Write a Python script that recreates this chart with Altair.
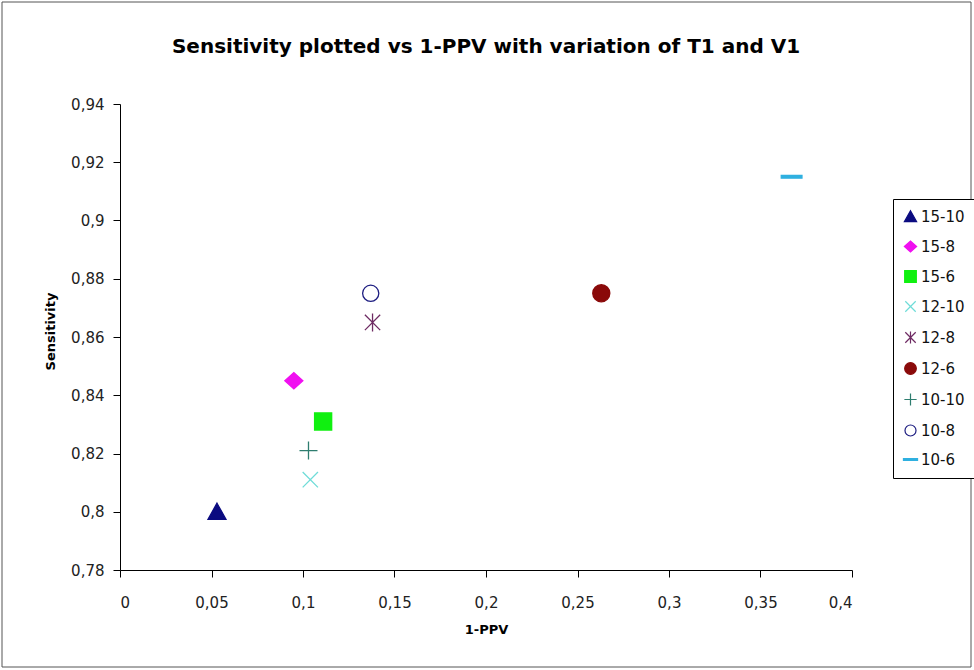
import altair as alt
import pandas as pd

# Sensitivity vs 1-PPV for each T1-V1 combination
series = ["15-10", "15-8", "15-6", "12-10", "12-8", "12-6", "10-10", "10-8", "10-6"]
one_minus_ppv = [0.053, 0.095, 0.111, 0.104, 0.138, 0.263, 0.103, 0.137, 0.367]
sensitivity = [0.800, 0.845, 0.831, 0.811, 0.865, 0.875, 0.821, 0.875, 0.915]

x_ticks = [0, 0.05, 0.1, 0.15, 0.2, 0.25, 0.3, 0.35, 0.4]
y_ticks = [0.78, 0.8, 0.82, 0.84, 0.86, 0.88, 0.9, 0.92, 0.94]

chart_title = "Sensitivity plotted vs 1-PPV with variation of T1 and V1"

# marker styling per series
shapes = [
    "M0,-0.95L1,0.85L-1,0.85Z",                      # triangle
    "M-1,0L0,-0.9L1,0L0,0.9Z",                       # diamond
    "M-0.95,-0.95L0.95,-0.95L0.95,0.95L-0.95,0.95Z",  # square
    "M-0.85,-0.85L0.85,0.85M-0.85,0.85L0.85,-0.85",  # x
    "M0,-1L0,1M-0.85,-0.85L0.85,0.85M-0.85,0.85L0.85,-0.85",  # star
    "M-0.95,0A0.95,0.95 0 1,0 0.95,0A0.95,0.95 0 1,0 -0.95,0Z",  # circle
    "M-1,0L1,0M0,-1L0,1",                            # plus
    "M-0.9,0A0.9,0.9 0 1,0 0.9,0A0.9,0.9 0 1,0 -0.9,0Z",  # open circle
    "M-1.15,-0.15L1.15,-0.15L1.15,0.15L-1.15,0.15Z",  # dash
]
colors = ["#0b0b80", "#f010f0", "#10f010", "#6fdcd8", "#6e2b63",
          "#8a0a0a", "#2e7d6f", "#1c1c80", "#2fb0e0"]
fills = ["#0b0b80", "#f010f0", "#10f010", "transparent", "transparent",
         "#8a0a0a", "transparent", "transparent", "#2fb0e0"]

df = pd.DataFrame({"series": series, "ppv": one_minus_ppv, "sens": sensitivity})

FONT = "DejaVu Sans"
PLOT_W, PLOT_H = 732, 466
label_expr = "replace(toString(round(datum.value*100)/100), '.', ',')"

points = alt.Chart(df).mark_point(size=324, strokeWidth=1.3, opacity=1).encode(
    x=alt.X("ppv:Q", title="1-PPV",
            scale=alt.Scale(domain=[0, 0.4], nice=False, zero=False),
            axis=alt.Axis(values=x_ticks, labelExpr=label_expr, grid=False,
                          tickSize=7, labelPadding=18, titlePadding=13)),
    y=alt.Y("sens:Q", title="Sensitivity",
            scale=alt.Scale(domain=[0.78, 0.94], nice=False, zero=False),
            axis=alt.Axis(values=y_ticks, labelExpr=label_expr, grid=False,
                          tickSize=7, labelPadding=9, titleX=-70, titleY=PLOT_H / 2 - 6,
                          titleAngle=-90, titleBaseline="middle", titleAlign="center")),
    shape=alt.Shape("series:N", sort=series, scale=alt.Scale(domain=series, range=shapes),
                    legend=alt.Legend(title=None)),
    stroke=alt.Stroke("series:N", sort=series, scale=alt.Scale(domain=series, range=colors),
                      legend=alt.Legend(title=None)),
    fill=alt.Fill("series:N", sort=series, scale=alt.Scale(domain=series, range=fills),
                  legend=alt.Legend(title=None)),
)

# outer border around the whole chart
frame = alt.Chart(alt.Data(values=[{}])).mark_rect(
    fill="transparent", stroke="#555555", strokeWidth=1
).encode(
    x=alt.value(-118), x2=alt.value(851), y=alt.value(-102), y2=alt.value(563)
)

heading = alt.Chart(alt.Data(values=[{"t": chart_title}])).mark_text(
    font=FONT, fontSize=20, fontWeight="bold", color="#000000",
    align="center", baseline="middle",
).encode(
    text="t:N", x=alt.value(PLOT_W / 2), y=alt.value(-57)
)

chart = alt.layer(frame, heading, points).properties(
    width=PLOT_W,
    height=PLOT_H,
    autosize=alt.AutoSizeParams(type="none"),
    padding={"left": 120, "top": 104, "right": 122, "bottom": 100},
).configure(
    background="white",
).configure_view(
    stroke=None,
).configure_axis(
    domainColor="#000000", tickColor="#000000", labelColor="#222222",
    labelFont=FONT, labelFontSize=15, titleFont=FONT, titleFontSize=13,
    titleFontWeight="bold", titleColor="#000000", domainWidth=1, tickWidth=1,
).configure_legend(
    orient="none", legendX=773, legendY=95,
    strokeColor="#000000", fillColor="white", padding=10, cornerRadius=0,
    labelFont=FONT, labelFontSize=15, labelColor="#111111",
    symbolSize=150, symbolStrokeWidth=1.2, rowPadding=13, labelOffset=3,
)

chart.save("out.html", embed_options={"renderer": "svg", "actions": False})
